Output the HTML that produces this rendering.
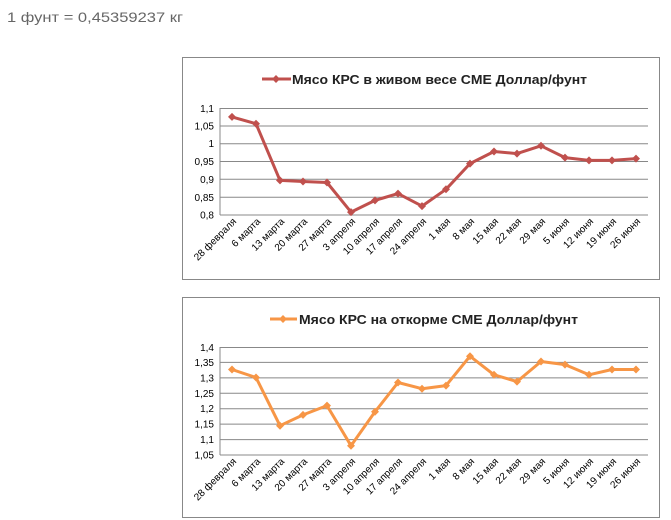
<!DOCTYPE html>
<html><head><meta charset="utf-8"><style>
body{margin:0;background:#fff;width:671px;height:520px;overflow:hidden}
svg{display:block;font-family:"Liberation Sans",sans-serif}
</style></head><body>
<svg width="671" height="520" viewBox="0 0 671 520">
<defs>
<path id="d" d="M0,-4 L4,0 L0,4 L-4,0Z"/>
</defs>
<text x="7" y="22" font-size="14" fill="#666" textLength="176" lengthAdjust="spacingAndGlyphs">1 фунт = 0,45359237 кг</text>

<!-- Chart 1 -->
<rect x="182.5" y="57.5" width="477" height="222" fill="#fff" stroke="#888"/>
<g stroke="#888" stroke-width="1">
<line x1="220" y1="108.5" x2="648" y2="108.5"/><line x1="220" y1="126" x2="648" y2="126"/>
<line x1="220" y1="143.7" x2="648" y2="143.7"/><line x1="220" y1="161.5" x2="648" y2="161.5"/>
<line x1="220" y1="179.3" x2="648" y2="179.3"/><line x1="220" y1="197.2" x2="648" y2="197.2"/>
<line x1="220" y1="215" x2="648" y2="215"/>
<line x1="220" y1="108" x2="220" y2="215"/>
</g>
<g font-size="10" fill="#000" text-anchor="end">
<text x="214" y="112">1,1</text><text x="214" y="129.5">1,05</text><text x="214" y="147">1</text>
<text x="214" y="165">0,95</text><text x="214" y="183">0,9</text><text x="214" y="201">0,85</text><text x="214" y="218.5">0,8</text>
</g>
<line x1="262" y1="79" x2="291" y2="79" stroke="#c0504d" stroke-width="3"/>
<use href="#d" x="276" y="79" fill="#c0504d"/>
<text x="292" y="84" font-size="13" font-weight="bold" fill="#222" textLength="295" lengthAdjust="spacingAndGlyphs">Мясо КРС в живом весе CME Доллар/фунт</text>
<polyline fill="none" stroke="#c0504d" stroke-width="3" stroke-linejoin="round" points="232,116.9 256,123.7 280,180.4 303,181.5 327,182.5 351,212.1 375,200.4 398,193.6 422,206.1 446,189.3 470,163.6 494,151.5 517,153.6 541,145.8 565,157.6 589,160.4 612,160.4 636,158.6"/>
<g fill="#c0504d">
<use href="#d" x="232" y="116.9"/><use href="#d" x="256" y="123.7"/><use href="#d" x="280" y="180.4"/><use href="#d" x="303" y="181.5"/><use href="#d" x="327" y="182.5"/><use href="#d" x="351" y="212.1"/><use href="#d" x="375" y="200.4"/><use href="#d" x="398" y="193.6"/><use href="#d" x="422" y="206.1"/><use href="#d" x="446" y="189.3"/><use href="#d" x="470" y="163.6"/><use href="#d" x="494" y="151.5"/><use href="#d" x="517" y="153.6"/><use href="#d" x="541" y="145.8"/><use href="#d" x="565" y="157.6"/><use href="#d" x="589" y="160.4"/><use href="#d" x="612" y="160.4"/><use href="#d" x="636" y="158.6"/>
</g>
<g font-size="10" text-anchor="end" fill="#000">
<text transform="translate(237,222) rotate(-45)">28 февраля</text>
<text transform="translate(261,222) rotate(-45)">6 марта</text>
<text transform="translate(285,222) rotate(-45)">13 марта</text>
<text transform="translate(308,222) rotate(-45)">20 марта</text>
<text transform="translate(332,222) rotate(-45)">27 марта</text>
<text transform="translate(356,222) rotate(-45)">3 апреля</text>
<text transform="translate(380,222) rotate(-45)">10 апреля</text>
<text transform="translate(403,222) rotate(-45)">17 апреля</text>
<text transform="translate(427,222) rotate(-45)">24 апреля</text>
<text transform="translate(451,222) rotate(-45)">1 мая</text>
<text transform="translate(475,222) rotate(-45)">8 мая</text>
<text transform="translate(499,222) rotate(-45)">15 мая</text>
<text transform="translate(522,222) rotate(-45)">22 мая</text>
<text transform="translate(546,222) rotate(-45)">29 мая</text>
<text transform="translate(570,222) rotate(-45)">5 июня</text>
<text transform="translate(594,222) rotate(-45)">12 июня</text>
<text transform="translate(617,222) rotate(-45)">19 июня</text>
<text transform="translate(641,222) rotate(-45)">26 июня</text>
</g>

<!-- Chart 2 -->
<rect x="182.5" y="297.5" width="477" height="220" fill="#fff" stroke="#888"/>
<g stroke="#888" stroke-width="1">
<line x1="220" y1="347.5" x2="648" y2="347.5"/><line x1="220" y1="362.4" x2="648" y2="362.4"/>
<line x1="220" y1="377.9" x2="648" y2="377.9"/><line x1="220" y1="393.3" x2="648" y2="393.3"/>
<line x1="220" y1="408.7" x2="648" y2="408.7"/><line x1="220" y1="424.1" x2="648" y2="424.1"/>
<line x1="220" y1="439.6" x2="648" y2="439.6"/><line x1="220" y1="455" x2="648" y2="455"/>
<line x1="220" y1="347" x2="220" y2="455"/>
</g>
<g font-size="10" fill="#000" text-anchor="end">
<text x="214" y="351">1,4</text><text x="214" y="366">1,35</text><text x="214" y="381.5">1,3</text>
<text x="214" y="397">1,25</text><text x="214" y="412">1,2</text><text x="214" y="427.5">1,15</text>
<text x="214" y="443">1,1</text><text x="214" y="458.5">1,05</text>
</g>
<line x1="270" y1="319" x2="297" y2="319" stroke="#f79646" stroke-width="3"/>
<use href="#d" x="283" y="319" fill="#f79646"/>
<text x="299" y="324" font-size="13" font-weight="bold" fill="#222" textLength="279" lengthAdjust="spacingAndGlyphs">Мясо КРС на откорме CME Доллар/фунт</text>
<polyline fill="none" stroke="#f79646" stroke-width="3" stroke-linejoin="round" points="232,369.5 256,377.5 280,425.7 303,414.9 327,405.6 351,445.7 375,411.8 398,382.5 422,388.7 446,385.6 470,356.2 494,374.8 517,381.6 541,361.5 565,364.6 589,374.8 612,369.5 636,369.5"/>
<g fill="#f79646">
<use href="#d" x="232" y="369.5"/><use href="#d" x="256" y="377.5"/><use href="#d" x="280" y="425.7"/><use href="#d" x="303" y="414.9"/><use href="#d" x="327" y="405.6"/><use href="#d" x="351" y="445.7"/><use href="#d" x="375" y="411.8"/><use href="#d" x="398" y="382.5"/><use href="#d" x="422" y="388.7"/><use href="#d" x="446" y="385.6"/><use href="#d" x="470" y="356.2"/><use href="#d" x="494" y="374.8"/><use href="#d" x="517" y="381.6"/><use href="#d" x="541" y="361.5"/><use href="#d" x="565" y="364.6"/><use href="#d" x="589" y="374.8"/><use href="#d" x="612" y="369.5"/><use href="#d" x="636" y="369.5"/>
</g>
<g font-size="10" text-anchor="end" fill="#000">
<text transform="translate(237,462) rotate(-45)">28 февраля</text>
<text transform="translate(261,462) rotate(-45)">6 марта</text>
<text transform="translate(285,462) rotate(-45)">13 марта</text>
<text transform="translate(308,462) rotate(-45)">20 марта</text>
<text transform="translate(332,462) rotate(-45)">27 марта</text>
<text transform="translate(356,462) rotate(-45)">3 апреля</text>
<text transform="translate(380,462) rotate(-45)">10 апреля</text>
<text transform="translate(403,462) rotate(-45)">17 апреля</text>
<text transform="translate(427,462) rotate(-45)">24 апреля</text>
<text transform="translate(451,462) rotate(-45)">1 мая</text>
<text transform="translate(475,462) rotate(-45)">8 мая</text>
<text transform="translate(499,462) rotate(-45)">15 мая</text>
<text transform="translate(522,462) rotate(-45)">22 мая</text>
<text transform="translate(546,462) rotate(-45)">29 мая</text>
<text transform="translate(570,462) rotate(-45)">5 июня</text>
<text transform="translate(594,462) rotate(-45)">12 июня</text>
<text transform="translate(617,462) rotate(-45)">19 июня</text>
<text transform="translate(641,462) rotate(-45)">26 июня</text>
</g>
</svg>
</body></html>
